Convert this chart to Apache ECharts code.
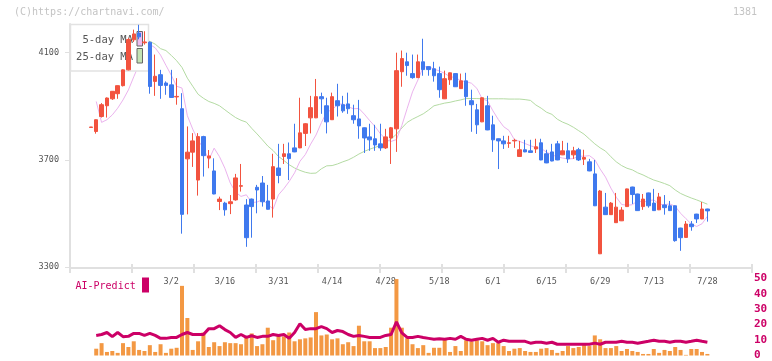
<!DOCTYPE html>
<html>
<head>
<meta charset="utf-8">
<script src="https://cdn.jsdelivr.net/npm/echarts@6/dist/echarts.min.js"></script>
<style>
  html, body { margin: 0; padding: 0; background: #fff; }
  #chart { width: 772px; height: 361px; }
</style>
</head>
<body>
<div id="chart"></div>
<script>
// trading days shown (2022)
const dates = ["2/7","2/8","2/9","2/10","2/14","2/15","2/16","2/17","2/18","2/21","2/22","2/24","2/25","2/28",
  "3/1","3/2","3/3","3/4","3/7","3/8","3/9","3/10","3/11","3/14","3/15","3/16","3/17","3/18","3/22","3/23","3/24","3/25","3/28","3/29","3/30","3/31",
  "4/1","4/4","4/5","4/6","4/7","4/8","4/11","4/12","4/13","4/14","4/15","4/18","4/19","4/20","4/21","4/22","4/25","4/26","4/27","4/28",
  "5/2","5/6","5/9","5/10","5/11","5/12","5/13","5/16","5/17","5/18","5/19","5/20","5/23","5/24","5/25","5/26","5/27","5/30","5/31",
  "6/1","6/2","6/3","6/6","6/7","6/8","6/9","6/10","6/13","6/14","6/15","6/16","6/17","6/20","6/21","6/22","6/23","6/24","6/27","6/28","6/29","6/30",
  "7/1","7/4","7/5","7/6","7/7","7/8","7/11","7/12","7/13","7/14","7/15","7/19","7/20","7/21","7/22","7/25","7/26","7/27","7/28"];
const labelDates = ["3/2","3/16","3/31","4/14","4/28","5/18","6/1","6/15","6/29","7/13","7/28"];
const priceTicks = [3300, 3700, 4100];

const opens = [3821,3806,3862,3902,3928,3947,3977,4036,4148,4173,4137,4139,3993,4018,3987,3980,3935,3891,3704,3729,3625,3787,3707,3659,3545,3539,3537,3551,3602,3532,3554,3598,3614,3547,3554,3670,3713,3723,3745,3745,3799,3857,3857,3936,3902,3850,3921,3906,3909,3865,3853,3820,3786,3779,3760,3745,3782,3816,4029,4066,4022,4007,4066,4048,4040,4022,3928,3999,4022,3966,3995,3921,3887,3842,3902,3831,3779,3771,3762,3771,3713,3738,3734,3741,3764,3723,3730,3760,3719,3734,3719,3738,3703,3693,3648,3350,3524,3496,3466,3473,3526,3599,3573,3526,3577,3539,3514,3532,3529,3529,3446,3411,3461,3498,3480,3517];
const closes = [3823,3850,3906,3931,3956,3977,4036,4149,4170,4159,4140,3974,4012,3978,3978,3933,3937,3497,3729,3771,3787,3716,3715,3573,3554,3514,3544,3633,3604,3410,3526,3588,3544,3516,3675,3642,3723,3705,3730,3801,3835,3895,3936,3928,3842,3936,3902,3883,3891,3850,3827,3782,3775,3756,3745,3786,3820,4033,4078,4052,4007,4066,4037,4037,4014,3962,4003,4025,3973,3995,3936,3906,3831,3932,3812,3775,3771,3760,3764,3773,3738,3730,3728,3749,3700,3689,3696,3700,3734,3704,3734,3700,3709,3659,3529,3584,3496,3539,3524,3513,3592,3571,3511,3554,3529,3511,3562,3522,3511,3399,3410,3461,3451,3480,3517,3510];
const lows = [3821,3798,3858,3858,3924,3928,3974,4034,4140,4150,4130,3947,3939,3928,3943,3931,3906,3425,3497,3674,3567,3638,3669,3572,3513,3492,3498,3548,3582,3376,3410,3501,3526,3515,3485,3613,3685,3625,3729,3744,3752,3799,3856,3872,3799,3849,3862,3876,3872,3835,3779,3726,3734,3734,3734,3741,3685,3730,3973,4014,4003,4006,4014,4014,3992,3932,3927,3980,3972,3965,3902,3805,3797,3841,3811,3730,3666,3741,3745,3745,3712,3729,3727,3726,3699,3688,3695,3699,3718,3689,3704,3696,3681,3658,3528,3349,3495,3495,3465,3472,3525,3536,3510,3514,3522,3510,3513,3496,3510,3395,3361,3410,3436,3465,3479,3470];
const highs = [3823,3851,3912,3933,3957,3978,4038,4155,4186,4204,4180,4142,4093,4036,3993,4036,4005,3949,3825,3800,3800,3790,3737,3706,3563,3544,3569,3648,3685,3554,3556,3607,3640,3607,3723,3760,3760,3765,3835,3932,3837,3939,4002,3951,3932,3951,3984,3939,3951,3906,3924,3821,3835,3831,3835,3816,3823,4100,4108,4100,4093,4093,4152,4049,4066,4048,4033,4026,4023,4022,4025,3962,3909,3933,3939,3865,3780,3790,3790,3779,3771,3775,3775,3779,3779,3738,3760,3771,3771,3764,3749,3745,3738,3704,3700,3588,3577,3543,3577,3524,3593,3600,3574,3573,3578,3592,3577,3569,3547,3530,3447,3472,3472,3499,3543,3518];

const ma5 = [null,3918,3840,3850,3868,3893,3924,3961,4010,4057,4098,4131,4118,4091,4053,4016,3975,3968,3865,3815,3773,3744,3700,3744,3712,3669,3614,3580,3564,3570,3541,3543,3552,3534,3517,3570,3593,3620,3652,3695,3720,3759,3793,3839,3879,3887,3907,3909,3898,3891,3892,3871,3847,3825,3798,3777,3769,3776,3828,3892,3954,3998,4047,4048,4039,4032,4023,4010,4008,3995,3992,3986,3967,3928,3920,3883,3851,3824,3810,3776,3769,3761,3753,3746,3743,3729,3719,3712,3707,3704,3705,3714,3714,3716,3701,3666,3636,3595,3561,3534,3531,3533,3548,3542,3548,3551,3535,3533,3536,3527,3501,3481,3461,3452,3462,3490];
const ma25 = [null,null,null,null,null,null,null,null,null,null,4147,4142,4132,4115,4108,4090,4070,4045,4005,3975,3945,3930,3918,3911,3902,3887,3872,3858,3848,3841,3818,3797,3775,3752,3735,3713,3698,3682,3670,3661,3654,3650,3651,3667,3678,3679,3685,3693,3700,3710,3722,3732,3740,3747,3753,3765,3778,3796,3819,3840,3852,3862,3872,3886,3902,3907,3912,3915,3920,3924,3929,3929,3929,3928,3928,3928,3928,3928,3927,3927,3927,3925,3922,3905,3893,3878,3870,3852,3841,3833,3822,3809,3796,3778,3760,3745,3733,3712,3693,3679,3669,3663,3652,3644,3634,3625,3619,3612,3604,3588,3575,3566,3558,3551,3543,3535];

const volume = [null,4.4,8.0,2.3,2.9,1.7,8.0,5.5,9.2,3.6,2.9,6.7,2.3,7.3,1.7,4.4,5.0,45.1,24.3,3.6,9.2,14.9,5.5,8.6,6.1,8.6,8.0,8.0,7.3,12.4,14.3,6.1,7.3,18.0,9.9,13.6,12.4,14.9,9.2,10.5,11.1,11.7,28.1,13.0,13.6,10.5,11.1,7.3,8.6,6.1,19.3,9.2,9.2,4.8,4.8,5.5,18.0,49.5,18.0,11.2,
  7.3,4.8,6.7,1.7,5.0,5.0,11.1,2.3,6.1,2.9,9.9,9.2,9.9,9.2,6.7,8.0,8.0,6.1,2.9,4.4,4.8,2.9,2.3,2.3,4.4,4.8,3.6,1.7,2.9,6.1,4.8,5.5,7.3,6.1,13.0,10.5,4.8,4.8,6.1,2.9,4.2,2.9,2.3,1.0,1.0,4.2,1.7,3.6,2.9,5.5,3.6,0.4,4.2,4.2,2.3,1.0];
const aiPredict = [null,13.0,13.6,14.9,12.2,14.9,12.2,12.4,14.3,14.3,13.0,14.3,13.0,11.1,11.1,11.7,11.7,13.6,14.9,13.6,13.6,13.6,17.4,17.4,19.3,16.8,14.9,11.7,13.6,11.7,12.8,11.7,12.4,12.4,13.6,13.0,13.6,11.1,14.9,20.6,16.8,17.4,17.4,18.7,17.4,14.9,16.2,15.5,13.6,12.4,13.0,12.4,11.7,11.7,11.7,13.0,13.6,21.8,14.6,11.7,
  11.7,12.4,11.7,11.1,10.5,10.9,10.5,11.1,10.5,12.4,10.5,9.9,10.5,11.1,9.9,11.1,8.6,9.9,9.2,9.2,9.2,9.2,8.0,8.6,8.6,8.0,8.6,7.3,7.3,7.3,7.3,7.3,7.3,7.3,8.0,7.3,8.6,8.6,8.6,9.2,8.6,8.6,8.0,8.6,9.2,9.9,9.2,9.2,8.6,9.2,9.2,8.6,9.2,9.9,9.2,8.6];

// empty slots before the first candle and after the last one
const PAD_L = 3;
const PAD_R = 8;
function pad(arr, empty) {
  const out = [];
  for (let k = 0; k < PAD_L; k++) out.push(empty);
  arr.forEach((v) => out.push(v === null ? empty : v));
  for (let k = 0; k < PAD_R; k++) out.push(empty);
  return out;
}
const xNames = [];
for (let k = 0; k < PAD_L; k++) xNames.push("pl" + k);
dates.forEach((d) => xNames.push(d));
for (let k = 0; k < PAD_R; k++) xNames.push("pr" + k);

const candles = pad(opens.map((o, k) => [o, closes[k], lows[k], highs[k]]), ["-", "-", "-", "-"]);

const MONO = "DejaVu Sans Mono";
const AXIS_GRAY = "#e0e0e0";
const CRIMSON = "#cc0066";

const chart = echarts.init(document.getElementById("chart"));
chart.setOption({
  animation: false,
  backgroundColor: "#fff",
  grid: [
    // frame (axis lines / ticks)
    { left: 70, top: 24, width: 682, height: 244 },
    // candles
    { left: 72.1, top: 24, width: 680.85, height: 244 },
    // volume + AI predict
    { left: 72.1, top: 278.3, width: 680.85, height: 79.4 },
  ],
  xAxis: [
    {
      gridIndex: 0, type: "value", min: 0, max: 11, interval: 1, position: "bottom",
      axisLine: { show: true, lineStyle: { color: AXIS_GRAY, width: 2 } },
      axisTick: { show: true, inside: true, length: 4, lineStyle: { color: AXIS_GRAY, width: 2 } },
      axisLabel: { show: false },
      splitLine: { show: false },
    },
    {
      gridIndex: 0, type: "value", min: 0, max: 11, interval: 1, position: "bottom",
      axisLine: { show: false },
      axisTick: { show: true, inside: false, length: 5, lineStyle: { color: AXIS_GRAY, width: 2 } },
      axisLabel: { show: false },
      splitLine: { show: false },
    },
    {
      gridIndex: 1, type: "category", data: xNames, boundaryGap: true,
      axisLine: { show: false },
      axisTick: { show: false },
      axisLabel: {
        interval: function (index, value) {
          return labelDates.indexOf(value) >= 0;
        },
        margin: 9,
        color: "#555",
        fontSize: 8.5,
        fontFamily: MONO,
      },
      splitLine: { show: false },
    },
    { gridIndex: 2, type: "category", data: xNames, boundaryGap: true, show: false },
  ],
  yAxis: [
    {
      gridIndex: 0, type: "value", min: 3297, max: 4207, position: "left",
      axisLine: { show: true, lineStyle: { color: AXIS_GRAY, width: 2 } },
      axisTick: { show: true, length: 5, customValues: priceTicks, lineStyle: { color: AXIS_GRAY, width: 1 } },
      axisLabel: {
        customValues: priceTicks, margin: 11, color: "#555", fontSize: 8.5, fontFamily: MONO,
        formatter: function (v) { return String(v); },
      },
      splitLine: { show: false },
    },
    { gridIndex: 1, type: "value", min: 3297, max: 4207, show: false, splitLine: { show: false } },
    {
      gridIndex: 2, type: "value", min: 0, max: 50, interval: 10, position: "right",
      axisLine: { show: false },
      axisTick: { show: false },
      axisLabel: { margin: 1, color: CRIMSON, fontSize: 11, fontWeight: "bold", fontFamily: MONO },
      splitLine: { show: false },
    },
  ],
  graphic: [
    { type: "text", z: 1, x: 14, y: 12, style: { text: "(C)https://chartnavi.com/", fill: "#c4c4c4", font: "10px " + MONO, verticalAlign: "middle" } },
    { type: "text", z: 1, x: 757, y: 12, style: { text: "1381", fill: "#c4c4c4", font: "10px " + MONO, align: "right", verticalAlign: "middle" } },
    // legend box (MA lines run underneath it, candles over it)
    { type: "rect", z: 2, shape: { x: 70.5, y: 24.5, width: 78, height: 46.5 }, style: { fill: "#fff", stroke: "#e2e2e2", lineWidth: 1.5 } },
    { type: "text", z: 2, x: 133, y: 40, style: { text: "5-day MA", fill: "#555", font: "10.5px " + MONO, align: "right", verticalAlign: "middle" } },
    { type: "text", z: 2, x: 133, y: 57, style: { text: "25-day MA", fill: "#555", font: "10.5px " + MONO, align: "right", verticalAlign: "middle" } },
    { type: "rect", z: 2, shape: { x: 137, y: 31.5, width: 5.5, height: 14.5 }, style: { fill: "#efbdf2", stroke: "#666", lineWidth: 1 } },
    { type: "rect", z: 2, shape: { x: 137, y: 48.5, width: 5.5, height: 14.5 }, style: { fill: "#c3e3b3", stroke: "#666", lineWidth: 1 } },
    // AI-Predict label
    { type: "text", z: 2, x: 75.5, y: 286, style: { text: "AI-Predict", fill: CRIMSON, font: "10px " + MONO, verticalAlign: "middle" } },
    { type: "rect", z: 2, shape: { x: 142, y: 277.5, width: 7, height: 15 }, style: { fill: CRIMSON } },
  ],
  series: [
    {
      name: "25-day MA", type: "line", xAxisIndex: 2, yAxisIndex: 1, z: 1,
      data: pad(ma25, "-"), showSymbol: false, silent: true,
      lineStyle: { color: "#b4dba3", width: 1 },
    },
    {
      name: "5-day MA", type: "line", xAxisIndex: 2, yAxisIndex: 1, z: 1,
      data: pad(ma5, "-"), showSymbol: false, silent: true,
      lineStyle: { color: "#ebb3ee", width: 1 },
    },
    {
      name: "price", type: "candlestick", xAxisIndex: 2, yAxisIndex: 1, z: 3,
      data: candles, barWidth: 4, silent: true,
      itemStyle: {
        color: "#f2533f", color0: "#3f79ee",
        borderColor: "#f2533f", borderColor0: "#3f79ee", borderWidth: 1,
      },
    },
    {
      name: "volume", type: "bar", xAxisIndex: 3, yAxisIndex: 2,
      data: pad(volume, "-"), barWidth: 4, silent: true,
      itemStyle: { color: "#f39843" },
    },
    {
      name: "AI-Predict", type: "line", xAxisIndex: 3, yAxisIndex: 2, z: 4,
      data: pad(aiPredict, "-"), showSymbol: false, silent: true,
      lineStyle: { color: CRIMSON, width: 3 },
    },
  ],
});
</script>
</body>
</html>
